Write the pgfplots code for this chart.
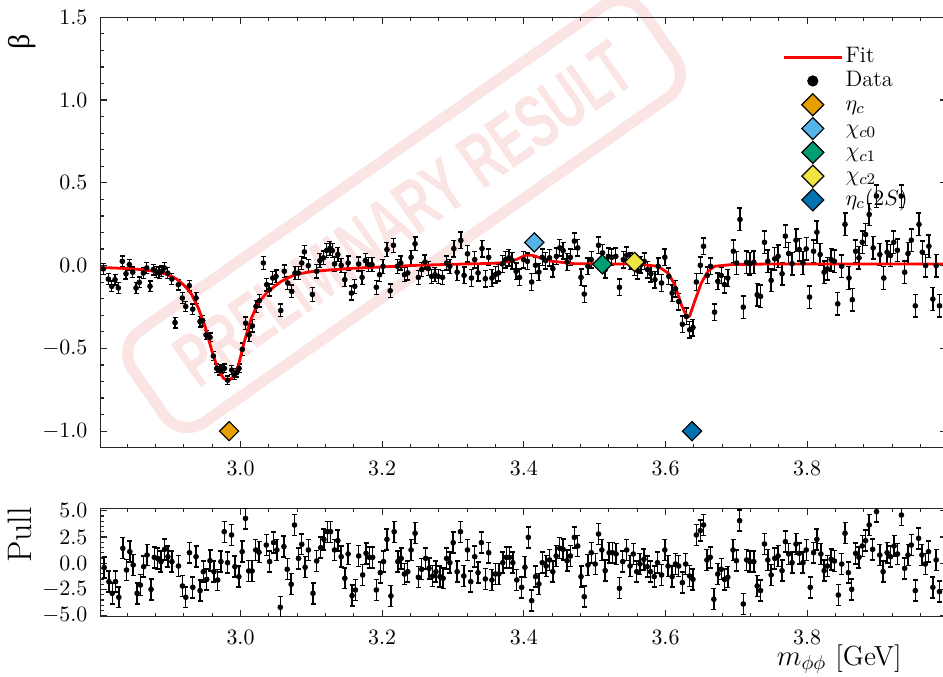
\documentclass[border=0pt]{standalone}
\usepackage{fontspec}
\usepackage{pgfplots}
\pgfplotsset{compat=1.18}
\usepackage{pgfplotstable}
\newfontfamily\wmfont{Liberation Sans}
\newfontfamily\betafont{Liberation Serif}
\definecolor{cEtac}{HTML}{E69F00}
\definecolor{cChi0}{HTML}{56B4E9}
\definecolor{cChi1}{HTML}{009E73}
\definecolor{cChi2}{HTML}{F0E442}
\definecolor{cEta2}{HTML}{0072B2}
\definecolor{wm}{RGB}{215,45,45}

\pgfplotstableread{
x y e
2.8063 -0.020 0.032
2.8134 -0.081 0.032
2.8182 -0.125 0.032
2.8228 -0.085 0.032
2.8275 -0.135 0.032
2.8331 0.026 0.032
2.8383 -0.049 0.032
2.8430 0.006 0.032
2.8478 -0.040 0.032
2.8525 -0.135 0.032
2.8571 -0.101 0.032
2.8628 -0.045 0.032
2.8676 -0.014 0.032
2.8722 -0.125 0.032
2.8769 -0.024 0.032
2.8817 -0.039 0.032
2.8849 -0.045 0.032
2.8887 -0.034 0.032
2.8924 -0.014 0.032
2.8972 -0.045 0.032
2.9029 -0.081 0.032
2.9075 -0.344 0.032
2.9122 -0.115 0.032
2.9178 -0.196 0.032
2.9226 -0.247 0.032
2.9277 -0.121 0.032
2.9325 -0.263 0.032
2.9372 -0.196 0.032
2.9428 -0.338 0.032
2.9466 -0.332 0.032
2.9513 -0.419 0.026
2.9569 -0.433 0.026
2.9616 -0.546 0.026
2.9664 -0.621 0.026
2.9701 -0.635 0.026
2.9735 -0.627 0.026
2.9771 -0.621 0.026
2.9819 -0.692 0.026
2.9876 -0.631 0.026
2.9912 -0.661 0.026
2.9946 -0.647 0.026
2.9979 -0.621 0.026
3.0025 -0.506 0.038
3.0073 -0.348 0.038
3.0120 -0.419 0.038
3.0167 -0.364 0.038
3.0219 -0.247 0.038
3.0265 -0.212 0.038
3.0322 0.016 0.038
3.0370 -0.115 0.038
3.0407 -0.146 0.038
3.0455 -0.075 0.038
3.0501 -0.065 0.038
3.0568 -0.271 0.038
3.0618 -0.034 0.038
3.0666 -0.105 0.038
3.0723 -0.156 0.038
3.0769 -0.045 0.038
3.0816 -0.045 0.038
3.0864 0.016 0.038
3.0901 0.083 0.038
3.0957 0.000 0.038
3.1014 -0.174 0.042
3.1075 -0.034 0.042
3.1121 0.030 0.042
3.1169 0.047 0.042
3.1215 0.091 0.042
3.1261 0.103 0.042
3.1295 0.091 0.042
3.1327 0.010 0.042
3.1374 0.067 0.042
3.1421 0.002 0.042
3.1472 -0.085 0.042
3.1519 0.016 0.042
3.1566 -0.166 0.042
3.1613 -0.125 0.042
3.1668 0.010 0.042
3.1716 -0.071 0.042
3.1762 0.030 0.042
3.1809 0.006 0.042
3.1856 0.006 0.042
3.1917 -0.131 0.042
3.1963 -0.055 0.042
3.2011 -0.004 0.042
3.2067 0.097 0.042
3.2113 -0.152 0.042
3.2159 0.123 0.042
3.2216 -0.004 0.042
3.2263 0.016 0.042
3.2314 -0.055 0.042
3.2361 -0.044 0.042
3.2408 0.050 0.042
3.2464 0.132 0.042
3.2511 -0.071 0.042
3.2558 -0.024 0.042
3.2604 0.022 0.042
3.2651 -0.018 0.042
3.2698 -0.065 0.042
3.2745 -0.055 0.042
3.2791 -0.065 0.042
3.2852 -0.071 0.042
3.2909 0.016 0.042
3.2955 -0.004 0.042
3.3011 0.103 0.05
3.3058 -0.040 0.05
3.3110 0.152 0.05
3.3156 -0.059 0.05
3.3204 0.071 0.05
3.3260 -0.075 0.05
3.3306 0.036 0.05
3.3353 -0.044 0.05
3.3409 0.103 0.05
3.3456 -0.079 0.05
3.3503 0.050 0.05
3.3549 -0.075 0.05
3.3597 -0.055 0.05
3.3643 -0.044 0.05
3.3695 0.010 0.05
3.3741 0.036 0.05
3.3788 0.047 0.05
3.3835 0.030 0.05
3.3891 -0.034 0.05
3.3938 -0.071 0.05
3.3998 0.036 0.05
3.4050 0.026 0.05
3.4110 -0.099 0.05
3.4165 0.002 0.05
3.4212 -0.039 0.05
3.4260 0.050 0.05
3.4306 0.030 0.05
3.4362 0.047 0.05
3.4409 -0.018 0.05
3.4460 0.056 0.05
3.4507 0.107 0.05
3.4554 0.091 0.05
3.4610 0.022 0.05
3.4657 0.050 0.05
3.4713 0.148 0.05
3.4760 0.107 0.05
3.4807 -0.071 0.05
3.4853 -0.172 0.05
3.4905 -0.004 0.05
3.4951 0.036 0.05
3.5054 0.123 0.05
3.5110 0.077 0.05
3.5148 -0.024 0.05
3.5194 0.056 0.05
3.5241 0.050 0.05
3.5297 0.056 0.05
3.5349 -0.131 0.05
3.5405 0.036 0.05
3.5452 0.063 0.05
3.5499 0.026 0.05
3.5559 -0.010 0.05
3.5607 -0.030 0.05
3.5653 0.006 0.05
3.5700 0.026 0.05
3.5747 -0.024 0.05
3.5793 -0.050 0.05
3.5850 -0.085 0.05
3.5896 -0.004 0.05
3.5943 -0.105 0.05
3.5990 0.050 0.05
3.6046 -0.065 0.05
3.6093 -0.166 0.05
3.6140 -0.140 0.05
3.6186 -0.217 0.05
3.6238 -0.354 0.05
3.6294 -0.307 0.05
3.6341 -0.388 0.05
3.6387 -0.374 0.05
3.6435 -0.099 0.05
3.6491 0.002 0.05
3.6537 0.117 0.05
3.6589 -0.059 0.05
3.6635 -0.004 0.05
3.6692 -0.281 0.05
3.6738 -0.095 0.05
3.6786 -0.059 0.05
3.6832 -0.115 0.05
3.6879 -0.075 0.05
3.6958 0.087 0.068
3.7004 0.016 0.068
3.7051 0.279 0.068
3.7098 -0.251 0.068
3.7145 0.020 0.068
3.7191 0.012 0.068
3.7247 0.020 0.068
3.7294 -0.176 0.068
3.7341 -0.186 0.068
3.7397 0.141 0.068
3.7444 0.026 0.068
3.7491 -0.089 0.068
3.7542 0.041 0.068
3.7589 0.056 0.068
3.7645 -0.049 0.068
3.7692 0.178 0.068
3.7738 0.073 0.068
3.7786 0.012 0.068
3.7842 0.154 0.068
3.7888 0.097 0.068
3.7940 0.016 0.068
3.7986 0.101 0.068
3.8033 -0.190 0.068
3.8090 0.087 0.068
3.8137 0.202 0.068
3.8183 0.067 0.068
3.8239 -0.040 0.068
3.8286 -0.020 0.068
3.8338 0.036 0.068
3.8384 0.026 0.068
3.8431 -0.231 0.068
3.8487 -0.004 0.068
3.8534 0.249 0.068
3.8590 -0.075 0.068
3.8637 -0.206 0.068
3.8684 0.087 0.068
3.8731 0.047 0.068
3.8777 0.141 0.068
3.8824 0.188 0.068
3.8875 0.309 0.068
3.8931 0.107 0.068
3.8978 0.420 0.068
3.9025 0.067 0.068
3.9081 -0.075 0.068
3.9128 0.081 0.068
3.9175 0.061 0.068
3.9222 0.141 0.068
3.9273 0.093 0.068
3.9328 0.420 0.068
3.9376 -0.040 0.068
3.9423 0.073 0.068
3.9470 0.154 0.068
3.9526 -0.243 0.068
3.9578 0.249 0.068
3.9625 0.081 0.068
3.9671 0.000 0.068
3.9718 0.117 0.068
3.9774 -0.202 0.068
3.9821 0.000 0.068
3.9868 -0.243 0.068
}\betadata

\pgfplotstableread{
x y
2.8023 -0.012
2.8200 -0.014
2.8400 -0.018
2.8600 -0.024
2.8800 -0.036
2.8900 -0.045
2.9031 -0.066
2.9100 -0.082
2.9180 -0.110
2.9250 -0.140
2.9312 -0.176
2.9405 -0.257
2.9500 -0.368
2.9592 -0.510
2.9685 -0.631
2.9760 -0.680
2.9825 -0.698
2.9890 -0.675
2.9965 -0.611
3.0060 -0.449
3.0154 -0.317
3.0247 -0.226
3.0387 -0.156
3.0575 -0.095
3.0762 -0.055
3.1000 -0.036
3.1500 -0.018
3.2000 -0.008
3.2500 0.002
3.3000 0.008
3.3500 0.013
3.3700 0.017
3.3890 0.036
3.4030 0.063
3.4120 0.062
3.4210 0.050
3.4400 0.026
3.4730 0.011
3.5200 0.010
3.5600 0.009
3.5896 -0.004
3.6036 -0.045
3.6130 -0.115
3.6224 -0.237
3.6303 -0.313
3.6340 -0.305
3.6410 -0.217
3.6505 -0.105
3.6600 -0.034
3.6692 -0.004
3.6926 0.006
3.7500 0.010
3.8500 0.010
4.0000 0.010
}\fitdata

\pgfplotstableread{
x y
2.8075 -0.42
2.8142 -1.76
2.8189 -2.87
2.8235 -1.76
2.8282 -3.25
2.8338 1.42
2.8390 -0.65
2.8437 1.10
2.8484 -0.17
2.8540 -2.87
2.8586 -2.08
2.8633 -0.33
2.8680 0.78
2.8737 -2.49
2.8783 0.56
2.8830 0.46
2.8877 0.15
2.8928 1.32
2.8975 0.62
2.9031 0.15
2.9124 -0.27
2.9180 -2.17
2.9227 -3.25
2.9279 1.00
2.9326 -2.30
2.9372 0.62
2.9429 -2.61
2.9475 -0.81
2.9523 -1.54
2.9569 0.24
2.9625 -0.81
2.9677 -1.60
2.9723 0.15
2.9770 3.00
2.9817 0.05
2.9873 2.69
2.9920 -0.33
2.9976 -1.28
3.0023 1.10
3.0070 4.27
3.0116 -0.74
3.0163 -0.74
3.0215 1.26
3.0261 1.04
3.0364 1.73
3.0411 0.15
3.0467 1.96
3.0513 1.26
3.0561 -4.20
3.0612 1.58
3.0659 -0.58
3.0715 -2.01
3.0762 3.64
3.0818 0.46
3.0864 1.80
3.0912 -0.39
3.0958 1.26
3.1023 -2.87
3.1075 0.21
3.1131 1.48
3.1177 2.27
3.1225 3.00
3.1271 3.00
3.1327 1.26
3.1374 2.15
3.1421 0.62
3.1472 -1.44
3.1519 0.88
3.1575 -3.09
3.1622 -2.55
3.1668 0.69
3.1724 -1.12
3.1772 0.94
3.1818 0.56
3.1865 0.56
3.1917 -2.55
3.1973 -0.90
3.2019 0.15
3.2067 2.27
3.2123 -3.12
3.2169 3.00
3.2221 0.15
3.2268 0.46
3.2314 -1.03
3.2361 -0.81
3.2408 1.26
3.2464 2.85
3.2511 -1.34
3.2558 -0.58
3.2614 0.46
3.2661 -0.49
3.2713 -1.22
3.2759 -0.81
3.2815 -1.28
3.2861 -1.44
3.2909 0.46
3.2955 0.05
3.3002 1.96
3.3058 -0.81
3.3105 3.00
3.3152 -1.22
3.3204 1.26
3.3250 -1.76
3.3306 0.62
3.3353 -0.90
3.3400 1.96
3.3456 -1.50
3.3503 1.00
3.3549 -1.60
3.3597 -1.03
3.3647 -1.03
3.3703 0.05
3.3751 0.56
3.3797 0.56
3.3844 0.05
3.3900 -1.60
3.3969 -2.30
3.4015 -0.39
3.4063 2.46
3.4110 -3.57
3.4165 -1.28
3.4212 -1.98
3.4260 0.05
3.4315 -0.27
3.4362 0.31
3.4409 -0.81
3.4456 0.69
3.4506 1.42
3.4554 1.32
3.4610 0.24
3.4657 0.69
3.4713 2.46
3.4760 1.64
3.4807 -1.28
3.4853 -3.19
3.4905 -0.17
3.4951 1.00
3.5007 -0.08
3.5054 2.78
3.5101 1.26
3.5148 -0.71
3.5204 1.00
3.5251 1.00
3.5302 0.88
3.5349 -2.39
3.5396 0.15
3.5452 1.26
3.5499 -0.27
3.5545 0.88
3.5593 -0.81
3.5639 -0.08
3.5695 0.37
3.5742 -0.33
3.5789 -0.81
3.5840 -1.28
3.5887 0.05
3.5943 -1.12
3.5990 1.26
3.6036 -0.27
3.6093 -1.28
3.6140 -0.08
3.6186 -0.27
3.6238 -1.85
3.6285 -0.08
3.6341 -1.22
3.6387 -1.54
3.6435 2.69
3.6491 3.10
3.6537 3.64
3.6584 0.31
3.6631 0.56
3.6682 -3.44
3.6738 -1.03
3.6786 -0.58
3.6832 -1.54
3.6879 -1.34
3.6953 1.26
3.7000 0.24
3.7046 4.05
3.7098 -3.89
3.7145 0.31
3.7191 0.15
3.7247 0.15
3.7294 -2.17
3.7341 -2.61
3.7397 1.83
3.7444 0.31
3.7491 -1.12
3.7542 0.46
3.7589 0.69
3.7645 -0.71
3.7692 2.05
3.7738 0.88
3.7786 0.05
3.7842 1.83
3.7888 0.94
3.7940 0.05
3.7986 1.26
3.8043 -2.30
3.8090 1.00
3.8137 2.27
3.8193 0.88
3.8239 -0.71
3.8286 -0.27
3.8338 0.37
3.8384 0.21
3.8440 -3.03
3.8487 -0.08
3.8534 2.85
3.8581 -0.90
3.8628 -2.49
3.8684 0.94
3.8731 0.56
3.8777 1.64
3.8824 2.15
3.8875 3.64
3.8923 1.32
3.8979 4.91
3.9025 0.78
3.9072 -0.81
3.9128 1.00
3.9175 0.62
3.9226 1.64
3.9274 0.88
3.9330 4.59
3.9376 -0.49
3.9423 0.78
3.9470 1.73
3.9526 -2.61
3.9573 2.37
3.9619 0.78
3.9667 -0.08
3.9713 1.10
3.9774 -2.30
3.9821 0.31
3.9868 -2.71
}\pulldata

\pgfplotsset{
  panel/.style={
    scale only axis,
    width=423.3pt,
    xmin=2.8023, xmax=3.9975,
    xtick={3.0,3.2,3.4,3.6,3.8,4.0},
    minor xtick={2.84,2.88,...,3.98},
    tick align=inside,
    major tick length=3.5pt, minor tick length=2pt,
    axis line style={line width=0.75pt, black!85},
    every tick/.style={line width=0.6pt, black!85},
    tick label style={font=\fontsize{10.5}{12}\selectfont},
    xticklabel style={yshift=-3.5pt, /pgf/number format/fixed, /pgf/number format/fixed zerofill, /pgf/number format/precision=1},
    yticklabel style={xshift=-3pt, /pgf/number format/fixed, /pgf/number format/fixed zerofill, /pgf/number format/precision=1},
  },
  datastyle/.style={
    only marks, mark=*, mark size=1.2pt, black, forget plot,
    /pgfplots/error bars/y dir=both,
    /pgfplots/error bars/error bar style={line width=0.7pt, black},
    /pgfplots/error bars/error mark options={rotate=90, mark size=1.25pt, line width=0.7pt, black},
  },
  reso/.style={
    only marks, mark=square*, mark size=3.4pt, forget plot,
    mark options={rotate=45, fill=#1, draw=black, line width=0.6pt},
  },
  dia/.style={legend image code/.code={\path[draw=none] (0pt,0pt) -- (29pt,0pt); \draw[fill=#1, draw=black, line width=0.6pt] (14.5pt,5.5pt) -- (20pt,0pt) -- (14.5pt,-5.5pt) -- (9pt,0pt) -- cycle;}},
}

\begin{document}
\begin{tikzpicture}
% watermark stamp
\node[rotate=35, xscale=0.64, transform shape, draw=wm, line width=5.5pt,
      rounded corners=14pt, minimum width=487pt, minimum height=56pt,
      text=wm, opacity=0.13, font=\wmfont\bfseries\fontsize{38}{40}\selectfont]
      at (151.75pt,116.85pt) {PRELIMINARY RESULT};

\begin{axis}[panel,
  at={(0pt,0pt)}, anchor=south west,
  height=215.2pt,
  ymin=-1.1, ymax=1.5,
  ytick={-1.0,-0.5,0.0,0.5,1.0,1.5},
  minor y tick num=4,
  legend style={at={(0.805,0.936)}, anchor=north west, draw=none, fill=none,
    inner sep=0pt, row sep=0pt, column sep=0pt,
    font=\fontsize{11.2}{13}\selectfont,
    nodes={inner sep=1.2pt, text height=7.5pt, text depth=2pt}},
  legend cell align=left,
]
\addplot[datastyle, /pgfplots/error bars/y explicit] table[x=x, y=y, y error=e] {\betadata};
\addplot[red, line width=1.4pt, forget plot] table[x=x, y=y] {\fitdata};
\addplot[reso=cEtac] coordinates {(2.9839,-1.0)};
\addplot[reso=cChi0] coordinates {(3.4147,0.14)};
\addplot[reso=cChi1] coordinates {(3.5107,0.008)};
\addplot[reso=cChi2] coordinates {(3.5562,0.022)};
\addplot[reso=cEta2] coordinates {(3.6375,-1.0)};

\addlegendimage{legend image code/.code={\draw[red, line width=1.4pt] (0pt,0pt) -- (29pt,0pt);}}
\addlegendentry{Fit}
\addlegendimage{legend image code/.code={\path[draw=none] (0pt,0pt) -- (29pt,0pt); \fill[black] (14.5pt,0pt) circle (2.6pt);}}
\addlegendentry{Data}
\addlegendimage{dia=cEtac}
\addlegendentry{$\eta_c$}
\addlegendimage{dia=cChi0}
\addlegendentry{$\chi_{c0}$}
\addlegendimage{dia=cChi1}
\addlegendentry{$\chi_{c1}$}
\addlegendimage{dia=cChi2}
\addlegendentry{$\chi_{c2}$}
\addlegendimage{dia=cEta2}
\addlegendentry{$\eta_c(2S)$}
\end{axis}

\begin{axis}[panel,
  at={(0pt,-84.4pt)}, anchor=south west,
  height=54.1pt,
  ymin=-5.08, ymax=5.23,
  ytick={-5,-2.5,0,2.5,5},
  minor y tick num=4,
]
\addplot[datastyle, /pgfplots/error bars/y fixed=1] table[x=x, y=y] {\pulldata};
\end{axis}

% axis labels
\node[rotate=90, font=\betafont\fontsize{15}{16}\selectfont] at (-39.25pt,202.85pt) {β};
\node[rotate=90, font=\fontsize{17}{19}\selectfont] at (-40.5pt,-43.6pt) {Pull};
\node[anchor=base east, inner sep=0pt, font=\fontsize{13.8}{16}\selectfont] at (400.75pt,-108.65pt) {$m_{\phi\phi}$ [GeV]};

\pgfresetboundingbox
\path[use as bounding box] (-50.25pt,-114.15pt) rectangle (421.25pt,223.85pt);
\end{tikzpicture}
\end{document}
